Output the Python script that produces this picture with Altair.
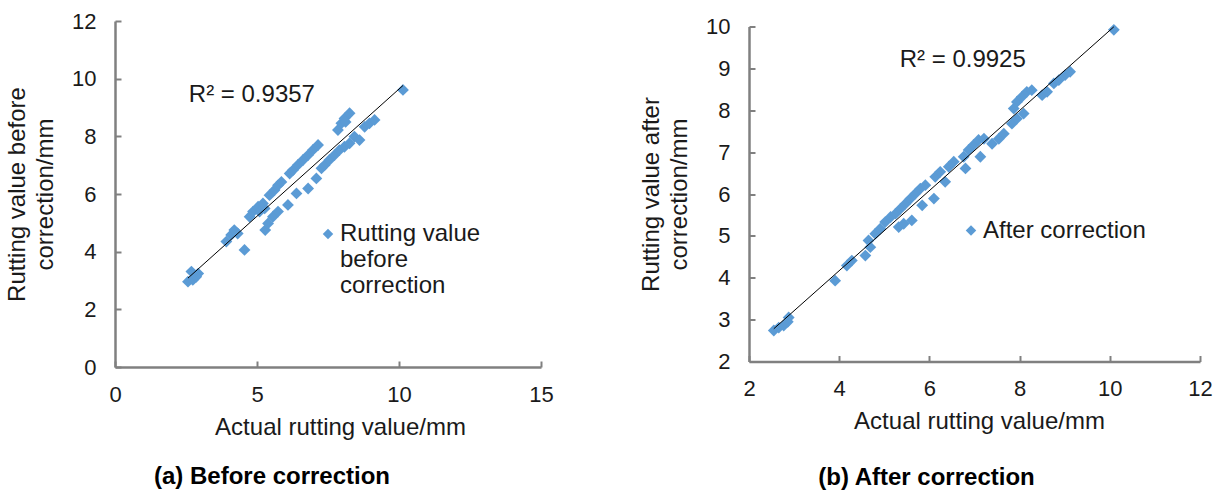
import altair as alt
import pandas as pd

# ---------------- data ----------------
before_x = [2.57, 2.69, 2.74, 2.86, 2.93,
            3.92, 4.09, 4.20, 4.32, 4.56,
            4.74, 4.86, 5.04, 5.09, 5.21, 5.27, 5.44, 5.62, 5.74, 5.86,
            6.15, 6.27, 6.44, 6.62, 6.80, 6.97, 7.15,
            5.29, 5.39, 5.56, 5.74, 6.09, 6.39, 6.80, 7.09,
            7.27, 7.38, 7.55, 7.73, 7.90, 8.08, 8.26, 8.43, 8.61, 8.79, 8.96, 9.14,
            7.85, 7.97, 8.08, 8.12, 8.26,
            10.14]
before_y = [2.96, 3.31, 3.02, 3.13, 3.24,
            4.35, 4.58, 4.75, 4.63, 4.06,
            5.21, 5.39, 5.56, 5.39, 5.67, 5.50, 5.96, 6.14, 6.30, 6.42,
            6.71, 6.83, 7.01, 7.18, 7.35, 7.53, 7.70,
            4.75, 4.98, 5.21, 5.39, 5.62, 6.02, 6.19, 6.54,
            6.89, 7.00, 7.18, 7.35, 7.52, 7.64, 7.76, 7.99, 7.87, 8.33, 8.45, 8.57,
            8.22, 8.45, 8.62, 8.50, 8.80,
            9.61]

after_x = [2.55, 2.66, 2.77, 2.86, 2.88,
           3.91, 4.17, 4.28, 4.58, 4.65, 4.69,
           4.80, 4.91, 5.02, 5.14, 5.25, 5.36, 5.47, 5.58, 5.69, 5.80, 5.91,
           5.32, 5.43, 5.61, 5.84, 6.10,
           6.13, 6.24, 6.35, 6.43, 6.54, 6.80, 6.76, 6.87, 6.98, 7.09, 7.13, 7.21,
           7.39, 7.54, 7.65, 7.83, 7.94, 8.09,
           7.87, 7.94, 8.05, 8.16, 8.27, 8.50, 8.61, 8.76, 8.87, 9.01, 9.12,
           10.09]
after_y = [2.74, 2.81, 2.86, 2.95, 3.05,
           3.93, 4.29, 4.41, 4.53, 4.89, 4.73,
           5.05, 5.17, 5.33, 5.45, 5.53, 5.65, 5.77, 5.89, 6.01, 6.13, 6.21,
           5.21, 5.29, 5.37, 5.73, 5.89,
           6.41, 6.53, 6.29, 6.65, 6.77, 6.61, 6.89, 7.05, 7.17, 7.29, 6.89, 7.32,
           7.20, 7.32, 7.44, 7.68, 7.80, 7.92,
           8.04, 8.20, 8.32, 8.44, 8.48, 8.36, 8.44, 8.64, 8.72, 8.84, 8.92,
           9.92]

before_series = "Rutting value before correction"
after_series = "After correction"
before_legend_lines = ["Rutting value", "before", "correction"]
after_legend_lines = ["After correction"]

before_r2_text = ["R\u00b2 = 0.9357"]
before_r2_x = [4.82]
before_r2_y = [9.42]
after_r2_text = ["R\u00b2 = 0.9925"]
after_r2_x = [6.74]
after_r2_y = [9.21]

x_title = "Actual rutting value/mm"
before_y_title = ["Rutting value before", "correction/mm"]
after_y_title = ["Rutting value after", "correction/mm"]
before_ticks_x = [0, 5, 10, 15]
before_ticks_y = [0, 2, 4, 6, 8, 10, 12]
after_ticks_x = [2, 4, 6, 8, 10, 12]
after_ticks_y = [2, 3, 4, 5, 6, 7, 8, 9, 10]
subtitle_a = "(a) Before correction"
subtitle_b = "(b) After correction"

# ---------------- styling ----------------
FONT = "Liberation Sans"
BLUE = "#5B9BD5"
GREY = "#808080"
TXT = "#1a1a1a"


def panel(xs, ys, series, legend_lines, xdom, ydom, xticks, yticks, ytitle,
          r2_text, r2_x, r2_y, width, height, legend_x, legend_y,
          subtitle, sub_dx, sub_offset, title_x):
    df = pd.DataFrame({"actual": xs, "value": ys, "series": [series] * len(xs)})
    r2df = pd.DataFrame({"x": r2_x, "y": r2_y, "label": r2_text})
    xscale = alt.Scale(domain=xdom, nice=False, zero=False)
    yscale = alt.Scale(domain=ydom, nice=False, zero=False)
    label_expr = "[" + ", ".join("'" + s + "'" for s in legend_lines) + "]"

    pts = alt.Chart(df).mark_point(
        shape="diamond", filled=True, size=140, opacity=1, strokeWidth=0
    ).encode(
        x=alt.X("actual:Q", scale=xscale, axis=alt.Axis(
            values=xticks, ticks=False, tickSize=0, grid=False,
            labelFlush=False, labelOverlap=False,
            domainColor=GREY, domainWidth=2.5, labelPadding=17,
            labelFont=FONT, labelFontSize=22, labelColor=TXT,
            title=x_title, titleFont=FONT, titleFontSize=24,
            titleFontWeight="normal", titleColor=TXT, titlePadding=10,
            titleX=title_x, orient="bottom")),
        y=alt.Y("value:Q", scale=yscale, axis=alt.Axis(
            values=yticks, ticks=False, tickSize=0, grid=False,
            labelFlush=False, labelOverlap=False,
            domainColor=GREY, domainWidth=2.5, labelPadding=19,
            labelFont=FONT, labelFontSize=22, labelColor=TXT,
            title=ytitle, titleFont=FONT, titleFontSize=24,
            titleFontWeight="normal", titleColor=TXT, titlePadding=14,
            titleLineHeight=28, orient="left")),
        color=alt.Color("series:N", scale=alt.Scale(range=[BLUE]), legend=alt.Legend(
            orient="none", legendX=legend_x, legendY=legend_y, title=None,
            symbolType="diamond", symbolSize=110, symbolStrokeWidth=0,
            labelFont=FONT, labelFontSize=24, labelColor=TXT, labelOffset=0,
            labelLimit=400, labelExpr=label_expr)),
    )

    trend = alt.Chart(df).transform_regression("actual", "value").mark_line(
        color="black", strokeWidth=1
    ).encode(
        x=alt.X("actual:Q", scale=xscale, axis=alt.Axis(
            values=xticks, orient="bottom", offset=-6, tickSize=6, ticks=True,
            tickColor=GREY, tickWidth=2, labels=False, domain=False,
            grid=False, title=None)),
        y=alt.Y("value:Q", scale=yscale, axis=alt.Axis(
            values=yticks, orient="left", offset=-6, tickSize=6, ticks=True,
            tickColor=GREY, tickWidth=2, labels=False, domain=False,
            grid=False, title=None)),
    )

    r2 = alt.Chart(r2df).mark_text(
        font=FONT, fontSize=24, color=TXT
    ).encode(
        x=alt.X("x:Q", scale=xscale, axis=None),
        y=alt.Y("y:Q", scale=yscale, axis=None),
        text="label:N",
    )

    return alt.layer(pts, trend, r2).resolve_axis(
        x="independent", y="independent"
    ).properties(
        width=width, height=height,
        title=alt.TitleParams(
            subtitle, orient="bottom", anchor="middle", font=FONT,
            fontSize=24, fontWeight="bold", color="black", offset=sub_offset,
            dx=sub_dx),
    )


left = panel(before_x, before_y, before_series, before_legend_lines,
             [0, 15], [0, 12], before_ticks_x, before_ticks_y, before_y_title,
             before_r2_text, before_r2_x, before_r2_y, 426, 346, 201, 201,
             subtitle_a, -56, 26, 225)
right = panel(after_x, after_y, after_series, after_legend_lines,
              [2, 12], [2, 10], after_ticks_x, after_ticks_y, after_y_title,
              after_r2_text, after_r2_x, after_r2_y, 451, 335, 210, 192,
              subtitle_b, -48, 32, 230)

chart = alt.hconcat(left, right, spacing=208, center=True, bounds="flush").resolve_scale(
    color="independent"
).resolve_legend(
    color="independent"
).properties(
    padding={"left": 5, "top": 10, "right": 5, "bottom": 5},
    background="white",
).configure_view(stroke=None)

chart.save("out.html", embed_options={"renderer": "svg", "actions": False})
